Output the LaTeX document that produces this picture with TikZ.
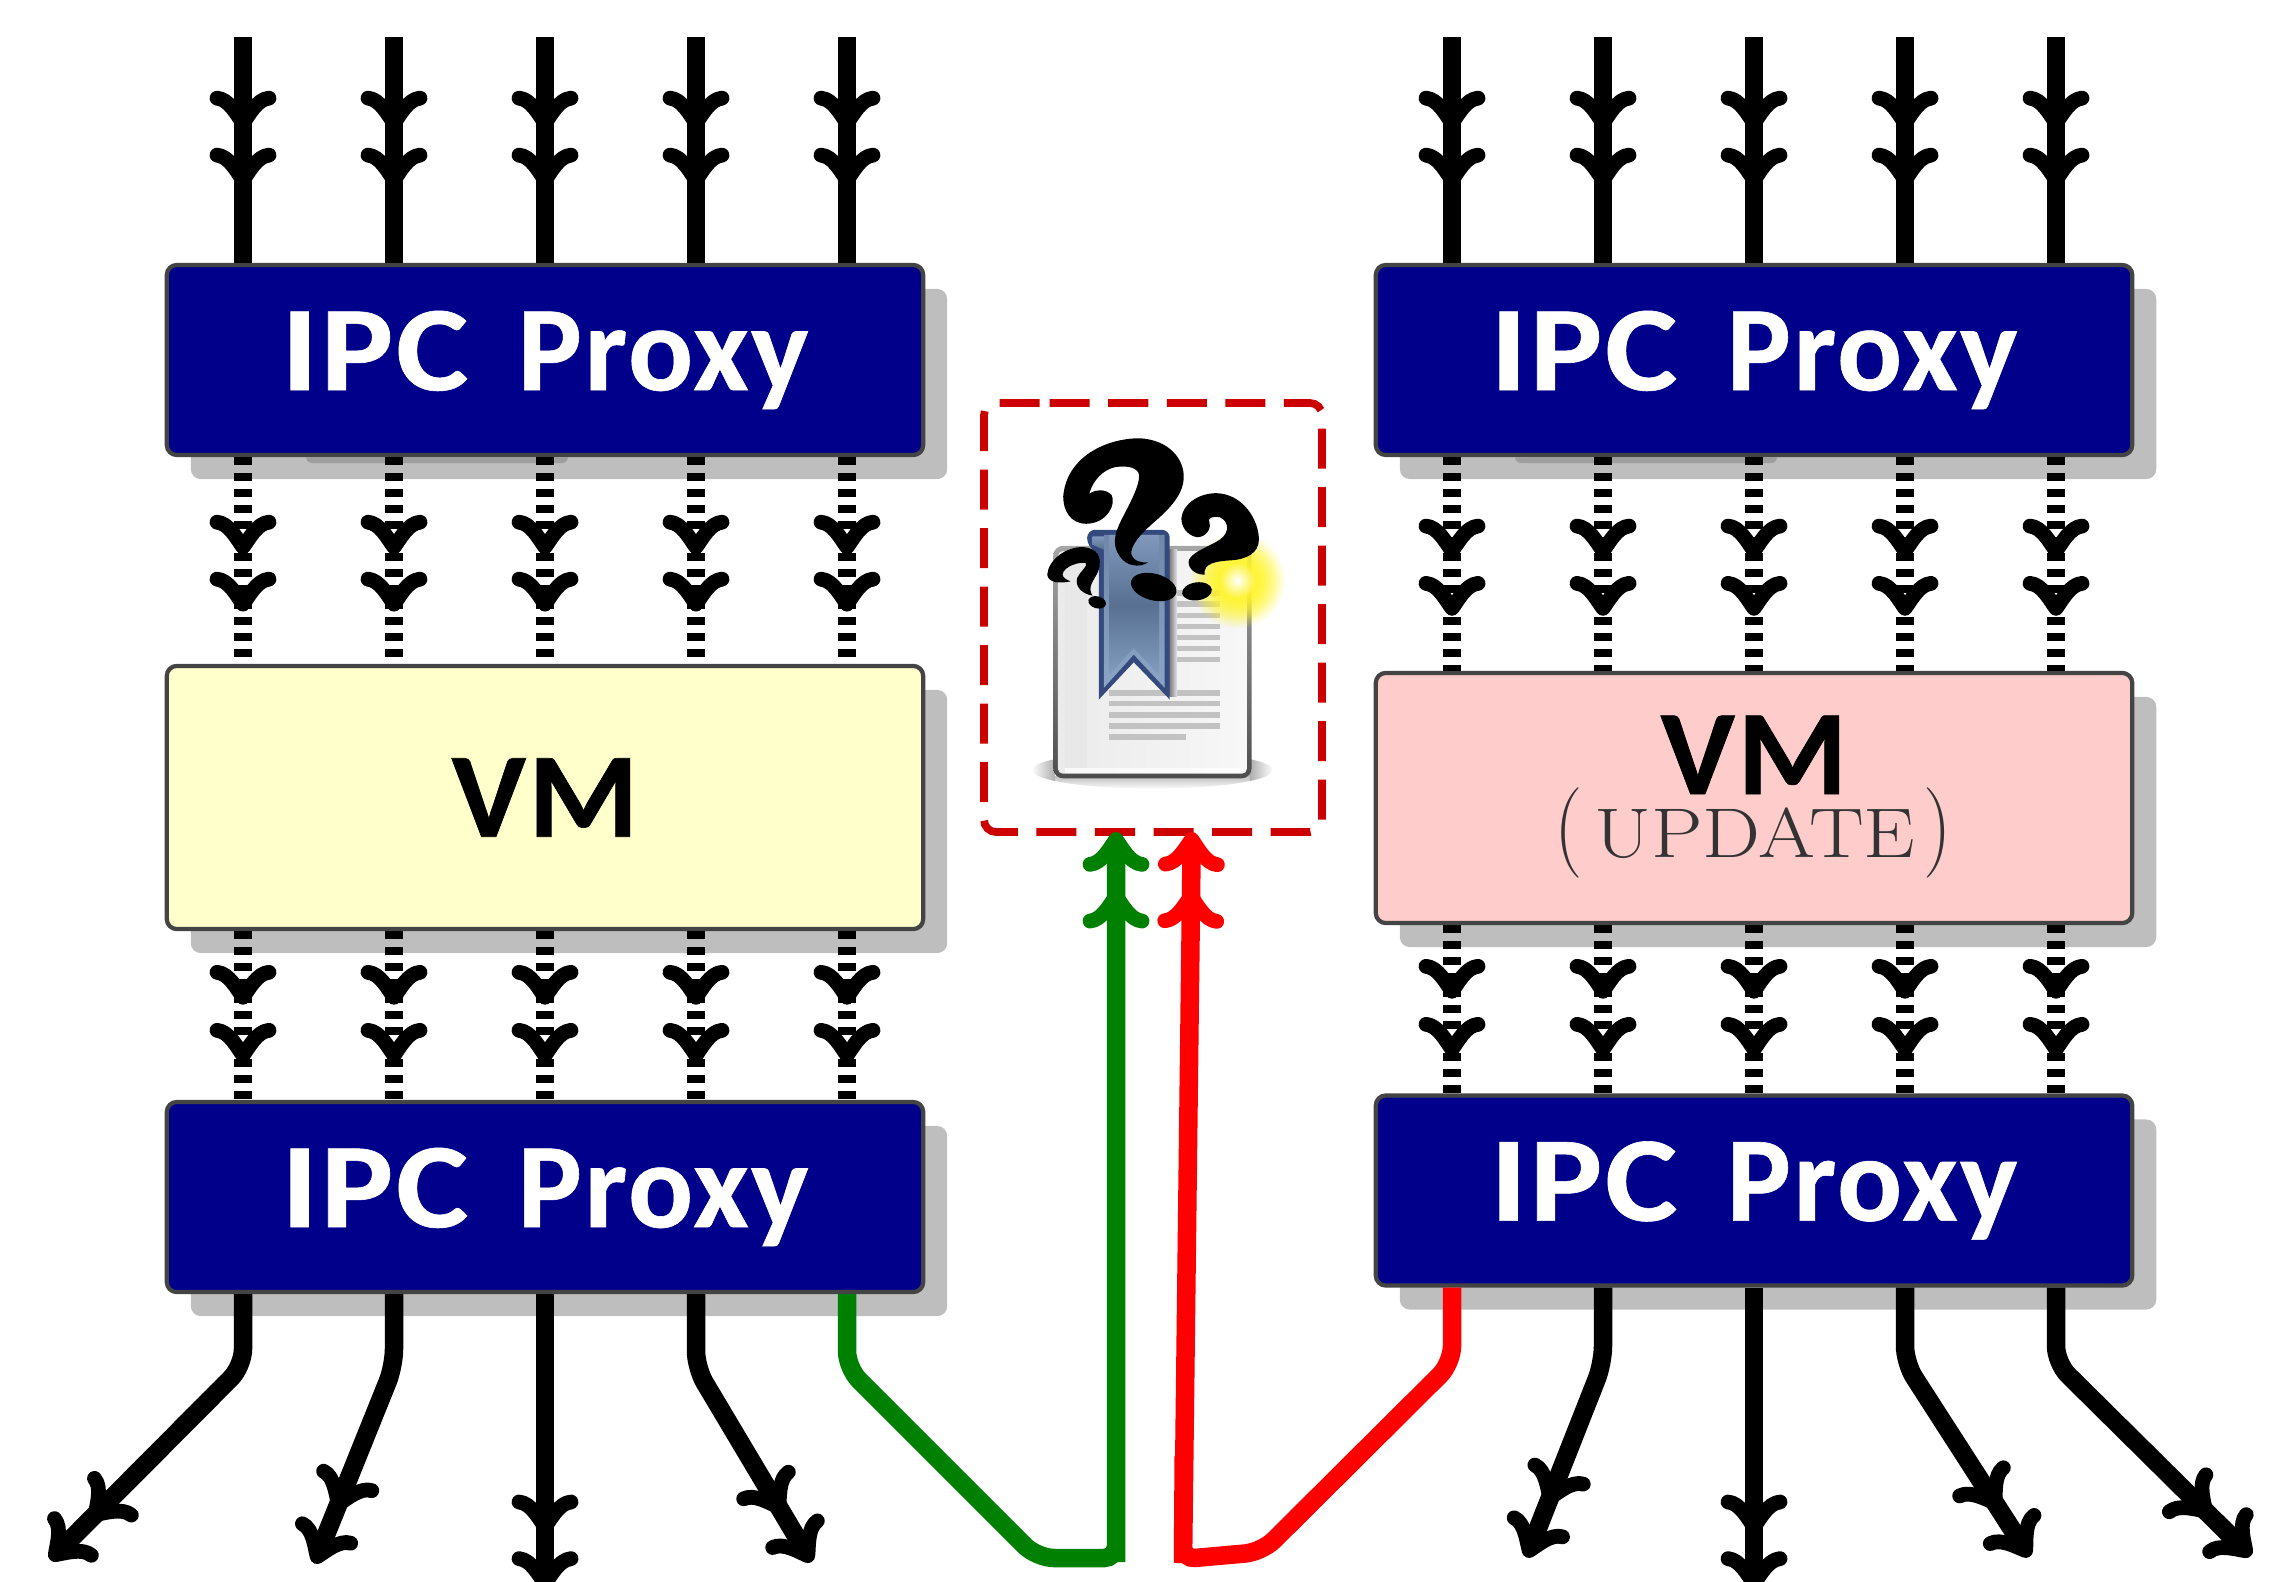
\documentclass[tikz,border=0pt]{standalone}
\usepackage{fontspec}
\newfontfamily\lblfont[LetterSpace=2.0,BoldFeatures={FakeBold=0.5}]{Carlito}
\usetikzlibrary{decorations.markings,shadows,calc,fadings}
\definecolor{navybox}{HTML}{00008B}
\definecolor{boxline}{HTML}{444444}
\definecolor{shadowgray}{HTML}{BEBEBE}
\definecolor{bandgray}{HTML}{9E9E9E}
\definecolor{vmyellow}{HTML}{FFFFCC}
\definecolor{vmpink}{HTML}{FFCCCC}
\definecolor{dashred}{HTML}{CC0000}
\definecolor{flowgreen}{HTML}{008000}
\definecolor{flowred}{HTML}{FF0000}
\definecolor{markblue}{HTML}{34497C}
\definecolor{marktop}{HTML}{7F98BB}
\definecolor{markmid}{HTML}{587193}
\definecolor{markbot}{HTML}{829CBD}
\definecolor{rimtop}{HTML}{6E87AA}
\definecolor{rimbot}{HTML}{8CA5C6}
\definecolor{glowyellow}{HTML}{FFF42A}
\tikzfading[name=glowfade, inner color=transparent!0, outer color=transparent!100]
\newcommand{\barbpair}[1]{\draw[barbstroke,shift={(#1,0)}] (-25,26) .. controls (-24,14) and (-8,6) .. (0,0) .. controls (-8,-6) and (-24,-14) .. (-25,-26);}
\newcommand{\ipclabel}{\scalebox{1.13}[1]{IPC}\hspace{0.16em} Proxy}
\tikzset{
  boxbase/.style={rectangle,rounded corners=0.1cm,line width=1.2pt,draw=boxline,inner sep=0pt,
    general shadow={shadow xshift=0.24cm,shadow yshift=-0.24cm,fill=shadowgray,rounded corners=0.1cm}},
  proxybox/.style={boxbase,fill=navybox,text=white,minimum width=7.56cm,minimum height=1.90cm,
    font=\lblfont\bfseries\fontsize{34.4}{36}\selectfont},
  vmbox/.style={boxbase,minimum width=7.56cm,font=\lblfont\bfseries\fontsize{34.4}{36}\selectfont},
  bigtext/.style={font=\lblfont\bfseries\fontsize{34.4}{36}\selectfont,inner sep=0pt,anchor=base},
  updtext/.style={font=\rmfamily\fontsize{20}{20}\selectfont,text=black!80,inner sep=0pt},
  barbstroke/.style={solid,sharp corners,line width=4.2pt,line cap=round,line join=round},
  wire/.style={line width=5.26pt},
  dashedwire/.style={wire,dash pattern=on 2.27pt off 2.27pt},
  endtips/.style={postaction={decorate,decoration={markings,
     mark=at position -13.66pt with {\barbpair{0}},
     mark=at position -0.1pt with {\barbpair{9}}}}},
  midtips/.style 2 args={postaction={decorate,decoration={markings,
     mark=at position #1 with {\barbpair{0}},
     mark=at position #2 with {\barbpair{0}}}}},
  bent/.style={wire,rounded corners=0.17cm,endtips},
  framebox/.style={draw=dashred,line width=2.2pt,rounded corners=0.12cm,dash pattern=on 11.38pt off 5.26pt}
}
\begin{document}
\begin{tikzpicture}[x=0.01cm,y=-0.01cm]
\useasboundingbox (0,0) rectangle (2294,1582);
% boxes
\node[proxybox] (LP1) at (545,360) {\ipclabel};
\node[vmbox,fill=vmyellow,minimum height=2.63cm] (LV) at (545,797.5) {\scalebox{1.04}[1]{VM}};
\node[proxybox] (LP2) at (545,1197) {\ipclabel};
\node[proxybox] (RP1) at (1754,360) {\ipclabel};
\node[vmbox,fill=vmpink,minimum height=2.50cm] (RV) at (1754,798) {};
\node[proxybox] (RP2) at (1754,1190.5) {\ipclabel};
\node[bigtext] (RVtitle) at (1754,794) {\scalebox{1.04}[1]{VM}};
\node[updtext,anchor=base] (RVsub) at (1755,857) {\scalebox{1.165}[1]{UPDATE}};
\node[updtext] (RVopen) at (1569,833) {\scalebox{1.1}[1.24]{$\bigg($}};
\node[updtext] (RVclose) at (1938,833) {\scalebox{1.1}[1.24]{$\bigg)$}};
% darker band below the top proxies
\fill[bandgray] (306,457) [rounded corners=0.06cm] -- (306,463) -- (568,463) [sharp corners] -- (568,457) -- cycle;
\fill[bandgray] (1515,457) [rounded corners=0.06cm] -- (1515,463) -- (1777,463) [sharp corners] -- (1777,457) -- cycle;
% columns
\foreach \i/\x in {1/243,2/394,3/545,4/696,5/847}{
  \coordinate (LC\i) at (\x,37);
  \draw[wire,midtips={24.5pt}{40.7pt}] (LC\i) -- (LC\i |- LP1.north);
  \draw[dashedwire,midtips={25.6pt}{41.8pt}] (LC\i |- LP1.south) -- (LC\i |- LV.north);
  \draw[dashedwire,midtips={18.8pt}{35.3pt}] (LC\i |- LV.south) -- (LC\i |- LP2.north);
}
\foreach \i/\x in {1/1452,2/1603,3/1754,4/1905,5/2056}{
  \coordinate (RC\i) at (\x,37);
  \draw[wire,midtips={24.5pt}{40.7pt}] (RC\i) -- (RC\i |- RP1.north);
  \draw[dashedwire,midtips={26.7pt}{43pt}] (RC\i |- RP1.south) -- (RC\i |- RV.north);
  \draw[dashedwire,midtips={18.8pt}{35.3pt}] (RC\i |- RV.south) -- (RC\i |- RP2.north);
}
% outputs left
\coordinate (LO1) at (61.3,1548.6);
\coordinate (LO2) at (320.4,1548.7);
\coordinate (LO3) at (545,1575);
\coordinate (LO4) at (803.4,1548.3);
\draw[bent] (LC1 |- LP2.south) -- (243,1366) -- (LO1);
\draw[bent] (LC2 |- LP2.south) -- (394,1366) -- (LO2);
\draw[bent] (LC3 |- LP2.south) -- (LO3);
\draw[bent] (LC4 |- LP2.south) -- (696,1368) -- (LO4);
% outputs right
\coordinate (RO2) at (1532.3,1542.6);
\coordinate (RO3) at (1754,1575);
\coordinate (RO4) at (2021.1,1543.4);
\coordinate (RO5) at (2239.6,1544.7);
\draw[bent] (RC2 |- RP2.south) -- (1603,1363) -- (RO2);
\draw[bent] (RC3 |- RP2.south) -- (RO3);
\draw[bent] (RC4 |- RP2.south) -- (1905,1363) -- (RO4);
\draw[bent] (RC5 |- RP2.south) -- (2056,1363) -- (RO5);
% frame
\draw[framebox] (1037.7,403) -- (1322,403) -- (1322,832) -- (984,832) -- (984,403) -- cycle;
% green and red
\coordinate (GE) at (1116,1562);
\coordinate (RE) at (1183,1563);
\draw[wire,color=flowgreen,endtips] (LC5 |- LP2.south) [rounded corners=0.17cm] -- (847,1368) -- (1037,1558) [rounded corners=0.12cm] -- (1116,1558) -- (1116,1550) [sharp corners] -- (GE) -- (1116,848);
\draw[wire,color=flowred,endtips] (RC1 |- RP2.south) [rounded corners=0.17cm] -- (1452,1363) -- (1262,1552) [rounded corners=0.12cm] -- (1183,1559) -- (1183.1,1545) [sharp corners] -- (RE) -- (1191.6,848);
% icon
\begin{scope}[shift={(980,390)},x=0.003333cm,y=-0.003333cm]
  \begin{scope}
    \clip (518,1142) ellipse [x radius=362,y radius=56];
    \shade[left color=white,right color=black!32] (155,1085) rectangle (225,1200);
    \shade[left color=black!32,right color=white] (810,1085) rectangle (880,1200);
    \shade[top color=black!25,bottom color=white] (225,1160) rectangle (810,1200);
  \end{scope}
  \shade[top color=black!35,bottom color=black!70,rounded corners=0.1cm] (220,468) rectangle (816,1167);
  \shade[left color=black!8,right color=black!3,rounded corners=0.05cm] (234,484) rectangle (802,1153);
  \fill[black!9] (255,490) rectangle (320,1135);
  \fill[white,opacity=.7] (255,1135) rectangle (790,1150);
  \foreach \yy in {610,643,677,710,743,777,810}{\fill[black!24] (590,\yy-8) rectangle (720,\yy+8);}
  \foreach \yy in {910,943,977,1010}{\fill[black!24] (387,\yy-8) rectangle (720,\yy+8);}
  \fill[black!24] (387,1035) rectangle (620,1051);
  \shade[left color=black!50,right color=black!10] (570,480) rectangle (592,920);
  \fill[markblue,rounded corners=0.08cm] (357,930) -- (357,490) -- (322,470) -- (322,420) -- (570,420) [sharp corners] -- (570,930) -- (462,818) -- cycle;
  \shade[top color=rimtop,bottom color=rimbot] (372,895) -- (372,435) -- (555,435) -- (555,895) -- (462,795) -- cycle;
  \shade[top color=marktop,bottom color=markbot,middle color=markmid] (389,855) -- (389,435) -- (538,435) -- (538,855) -- (462,775) -- cycle;
  \shade[top color=marktop,bottom color=markmid] (338,440) -- (372,440) -- (372,480) -- (338,465) -- cycle;
  \fill[glowyellow,path fading=glowfade] (773,572) circle (145);
  \fill[glowyellow,path fading=glowfade] (773,572) circle (145);
  \fill[glowyellow,path fading=glowfade] (773,572) circle (125);
  \fill[white,path fading=glowfade] (773,572) circle (55);
  % question marks
  \fill[black] (250,320) .. controls (260,200) and (380,145) .. (480,145) .. controls (570,150) and (615,210) .. (612,265) .. controls (610,320) and (560,365) .. (520,400) .. controls (480,435) and (450,470) .. (455,495) .. controls (460,515) and (490,520) .. (505,518) .. controls (480,535) and (440,530) .. (420,500) .. controls (395,465) and (405,430) .. (425,390) .. controls (445,350) and (480,290) .. (478,255) .. controls (475,235) and (445,225) .. (405,232) .. controls (370,240) and (340,270) .. (328,312) .. controls (345,300) and (375,295) .. (395,315) .. controls (410,340) and (385,400) .. (320,402) .. controls (270,402) and (250,360) .. (250,320) -- cycle;
  \fill[black,rotate around={-15:(522,592)}] (522,592) ellipse [x radius=70,y radius=40];
  \fill[black] (605,385) .. controls (610,340) and (660,310) .. (710,310) .. controls (790,312) and (838,390) .. (838,450) .. controls (838,490) and (800,510) .. (750,512) .. controls (710,515) and (670,520) .. (675,555) .. controls (640,555) and (622,530) .. (628,510) .. controls (640,485) and (690,470) .. (720,450) .. controls (750,430) and (750,395) .. (720,382) .. controls (700,378) and (680,385) .. (690,400) .. controls (695,425) and (670,445) .. (650,442) .. controls (620,435) and (605,410) .. (605,385) -- cycle;
  \fill[black,rotate around={8:(652,605)}] (652,605) ellipse [x radius=45,y radius=27];
  \fill[black] (202,555) .. controls (205,510) and (260,470) .. (310,472) .. controls (350,475) and (370,500) .. (355,545) .. controls (345,570) and (320,590) .. (338,618) .. controls (305,612) and (285,590) .. (292,565) .. controls (300,545) and (325,530) .. (318,520) .. controls (300,515) and (250,530) .. (248,555) .. controls (250,565) and (260,570) .. (272,575) .. controls (240,582) and (205,580) .. (202,555) -- cycle;
  \fill[black,rotate around={-15:(352,638)}] (352,638) ellipse [x radius=27,y radius=18];
\end{scope}
\end{tikzpicture}
\end{document}
